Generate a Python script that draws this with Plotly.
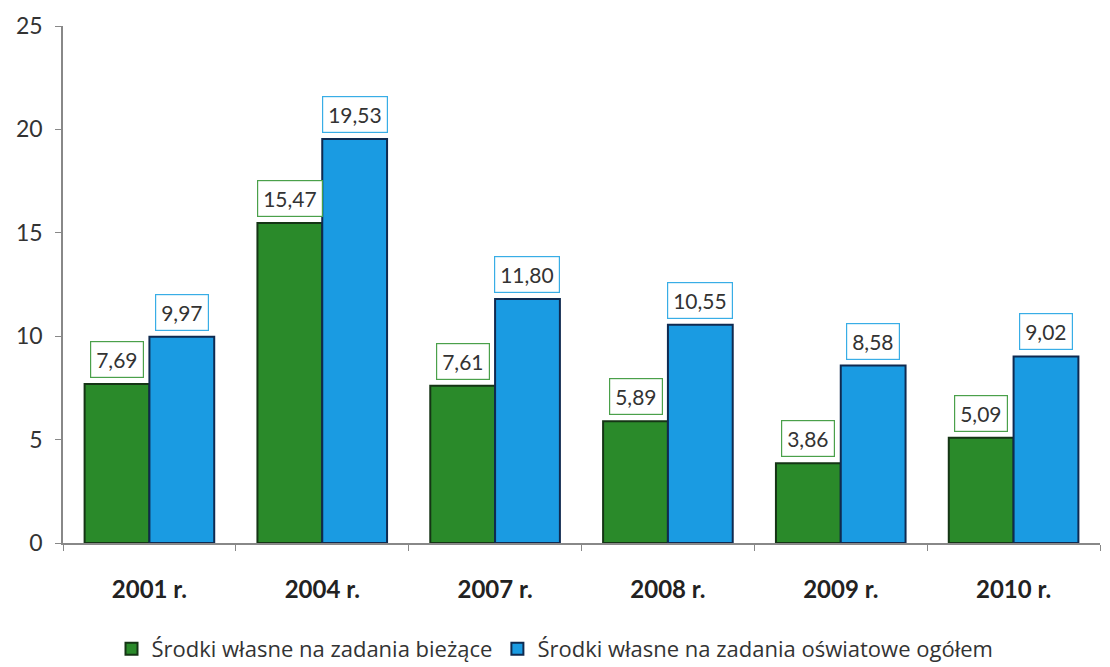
import plotly.graph_objects as go

categories = ["2001 r.", "2004 r.", "2007 r.", "2008 r.", "2009 r.", "2010 r."]
biezace = [7.69, 15.47, 7.61, 5.89, 3.86, 5.09]
ogolem = [9.97, 19.53, 11.80, 10.55, 8.58, 9.02]
series_names = ["Środki własne na zadania bieżące", "Środki własne na zadania oświatowe ogółem"]
y_ticks = [0, 5, 10, 15, 20, 25]

GREEN = "#2a8a2a"
GREEN_LINE = "#153515"
BLUE = "#1a9be2"
BLUE_LINE = "#0f2a50"
FONT = "Lato, 'Open Sans', sans-serif"
LEG_FONT = "'Open Sans', Lato, sans-serif"

# page has an 8px body margin, so the figure is sized to fit inside the viewport
OFF = 8
W, H = 1110 - OFF, 667 - OFF
ML, MR, MT, MB = 63 - OFF, 10, 26 - OFF, 124
BARGAP = 0.25
cat_w = (W - ML - MR) / len(categories)
bar_w = cat_w * (1 - BARGAP) / 2
shift = bar_w / 2

fig = go.Figure()
fig.add_trace(go.Bar(x=categories, y=biezace, name=series_names[0],
                     marker=dict(color=GREEN, line=dict(color=GREEN_LINE, width=2))))
fig.add_trace(go.Bar(x=categories, y=ogolem, name=series_names[1],
                     marker=dict(color=BLUE, line=dict(color=BLUE_LINE, width=2))))

def fmt(v):
    return f"{v:.2f}".replace(".", ",")

annotations = []
for c, v in zip(categories, biezace):
    annotations.append(dict(x=c, y=v, xref="x", yref="y", text=fmt(v), showarrow=False,
                            xshift=-shift, yshift=6, yanchor="bottom",
                            font=dict(family=FONT, size=21, color="#333333"),
                            bgcolor="white", bordercolor="#4aa04a", borderwidth=1.2, borderpad=5))
for c, v in zip(categories, ogolem):
    annotations.append(dict(x=c, y=v, xref="x", yref="y", text=fmt(v), showarrow=False,
                            xshift=shift, yshift=6, yanchor="bottom",
                            font=dict(family=FONT, size=21, color="#333333"),
                            bgcolor="white", bordercolor="#38ade6", borderwidth=1.2, borderpad=5))

fig.update_layout(
    width=W, height=H,
    margin=dict(l=ML, r=MR, t=MT, b=MB, autoexpand=False),
    paper_bgcolor="white", plot_bgcolor="white",
    barmode="group", bargap=BARGAP, bargroupgap=0,
    font=dict(family=FONT, color="#333333"),
    annotations=annotations,
    showlegend=True,
    legend=dict(orientation="h", x=(555 - OFF) / W, xanchor="center", xref="container",
                y=(H - (649 - OFF)) / H, yanchor="middle", yref="container",
                font=dict(family=LEG_FONT, size=22, color="#333333"),
                traceorder="normal", itemwidth=30),
    xaxis=dict(showline=True, linecolor="#888888", linewidth=1.5, automargin=False,
               ticks="outside", ticklen=6, tickcolor="#888888", tickson="boundaries",
               ticklabelstandoff=24,
               tickfont=dict(family=FONT, size=24, color="#222222", weight="bold"),
               showgrid=False),
    yaxis=dict(range=[0, 25], tickvals=y_ticks, showline=True, linecolor="#888888", linewidth=1.5,
               automargin=False, ticks="outside", ticklen=6, tickcolor="#888888",
               ticklabelstandoff=8,
               tickfont=dict(family=FONT, size=23, color="#333333"),
               showgrid=False, zeroline=False),
)

fig.write_html("out.html")
